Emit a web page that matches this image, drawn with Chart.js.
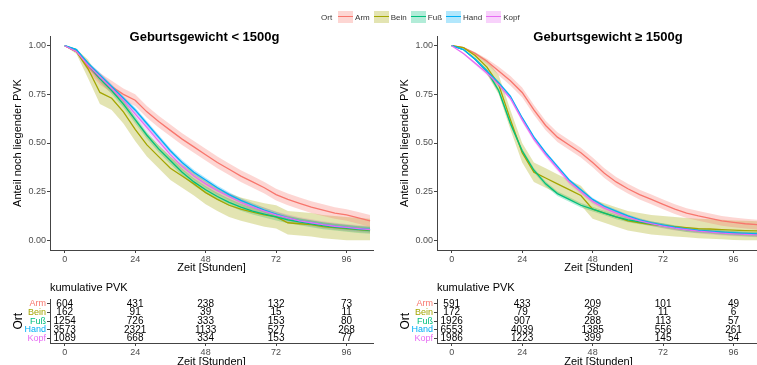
<!DOCTYPE html>
<html>
<head>
<meta charset="utf-8">
<script src="https://cdn.jsdelivr.net/npm/chart.js@4/dist/chart.umd.min.js"></script>
<style>
  body { margin: 0; width: 757px; height: 365px; overflow: hidden; background: #fff; position: relative;
         font-family: "Liberation Sans", Arial, sans-serif; }
  canvas { position: absolute; }
  #legend { position: absolute; top: 11px; left: 321px; display: flex; align-items: center; font-size: 8px; color: #333; z-index: 2; }
  #legend .key { width: 15px; height: 12px; position: relative; margin-right: 2px; }
  #legend .key i { position: absolute; left: 0; right: 0; top: 5px; height: 1.4px; }
  #legend .txt { margin-right: 4px; }
</style>
</head>
<body>
<div id="legend"><span class="txt" style="margin-right:6px">Ort</span></div>
<canvas id="survLeft" width="380" height="280" style="left:0;top:0"></canvas>
<canvas id="survRight" width="380" height="280" style="left:387px;top:0"></canvas>
<canvas id="tableLeft" width="380" height="95" style="left:0;top:280px"></canvas>
<canvas id="tableRight" width="380" height="95" style="left:387px;top:280px"></canvas>
<script>
// --- DATA ---
const seriesNames = ["Arm", "Bein", "Fuß", "Hand", "Kopf"];
const xTicks = [0, 24, 48, 72, 96];
const yTicks = [0, 0.25, 0.5, 0.75, 1];
const hours = [0, 4, 8, 12, 16, 20, 24, 28, 32, 36, 40, 44, 48, 52, 56, 60, 64, 68, 72, 76, 80, 84, 88, 92, 96, 100, 104];

// Geburtsgewicht < 1500g (Anteil noch liegender PVK)
const leftArm = [1, 0.97, 0.89, 0.83, 0.79, 0.75, 0.72, 0.66, 0.61, 0.565, 0.52, 0.48, 0.44, 0.4, 0.365, 0.33, 0.3, 0.27, 0.235, 0.21, 0.19, 0.17, 0.155, 0.14, 0.13, 0.115, 0.1];
const leftBein = [1, 0.97, 0.88, 0.76, 0.73, 0.66, 0.57, 0.49, 0.43, 0.37, 0.33, 0.29, 0.245, 0.21, 0.18, 0.16, 0.145, 0.13, 0.12, 0.09, 0.085, 0.08, 0.07, 0.065, 0.06, 0.055, 0.05];
const leftFuss = [1, 0.98, 0.9, 0.83, 0.77, 0.7, 0.62, 0.54, 0.47, 0.41, 0.35, 0.3, 0.26, 0.225, 0.195, 0.17, 0.15, 0.135, 0.12, 0.105, 0.095, 0.085, 0.075, 0.068, 0.062, 0.056, 0.052];
const leftHand = [1, 0.98, 0.91, 0.85, 0.79, 0.73, 0.67, 0.6, 0.53, 0.46, 0.4, 0.35, 0.31, 0.27, 0.235, 0.205, 0.18, 0.155, 0.135, 0.115, 0.1, 0.09, 0.08, 0.072, 0.066, 0.06, 0.056];
const leftKopf = [1, 0.97, 0.9, 0.84, 0.78, 0.72, 0.65, 0.58, 0.51, 0.44, 0.38, 0.33, 0.29, 0.255, 0.225, 0.195, 0.17, 0.15, 0.13, 0.115, 0.1, 0.09, 0.08, 0.072, 0.066, 0.06, 0.055];
const leftBand = [0.03, 0.06, 0.018, 0.012, 0.018]; // half width of the confidence band

// Geburtsgewicht >= 1500g
const rightArm = [1, 0.99, 0.96, 0.92, 0.87, 0.82, 0.76, 0.67, 0.59, 0.53, 0.49, 0.45, 0.4, 0.345, 0.3, 0.265, 0.235, 0.21, 0.185, 0.16, 0.14, 0.125, 0.113, 0.1, 0.092, 0.085, 0.08];
const rightBein = [1, 0.99, 0.95, 0.89, 0.8, 0.62, 0.45, 0.35, 0.32, 0.29, 0.26, 0.23, 0.16, 0.14, 0.12, 0.1, 0.09, 0.08, 0.075, 0.07, 0.065, 0.06, 0.058, 0.055, 0.052, 0.05, 0.048];
const rightFuss = [1, 0.98, 0.93, 0.87, 0.77, 0.6, 0.46, 0.36, 0.29, 0.24, 0.21, 0.18, 0.16, 0.14, 0.12, 0.105, 0.095, 0.085, 0.075, 0.065, 0.055, 0.05, 0.045, 0.04, 0.036, 0.033, 0.03];
const rightHand = [1, 0.98, 0.93, 0.87, 0.81, 0.74, 0.63, 0.53, 0.45, 0.38, 0.31, 0.26, 0.21, 0.175, 0.15, 0.125, 0.105, 0.09, 0.078, 0.067, 0.058, 0.051, 0.046, 0.042, 0.038, 0.035, 0.033];
const rightKopf = [1, 0.96, 0.91, 0.86, 0.8, 0.73, 0.62, 0.52, 0.44, 0.37, 0.3, 0.25, 0.2, 0.165, 0.14, 0.118, 0.1, 0.085, 0.073, 0.062, 0.054, 0.047, 0.042, 0.037, 0.033, 0.03, 0.028];
const rightBand = [0.025, 0.05, 0.012, 0.008, 0.012];

// kumulative PVK (at 0, 24, 48, 72, 96 h)
const leftCountArm = [604, 431, 238, 132, 73];
const leftCountBein = [162, 91, 39, 15, 11];
const leftCountFuss = [1254, 726, 333, 153, 80];
const leftCountHand = [3573, 2321, 1133, 527, 268];
const leftCountKopf = [1089, 668, 334, 153, 77];
const rightCountArm = [591, 433, 209, 101, 49];
const rightCountBein = [172, 79, 26, 11, 6];
const rightCountFuss = [1926, 907, 288, 113, 57];
const rightCountHand = [6553, 4039, 1385, 556, 261];
const rightCountKopf = [1986, 1223, 399, 145, 54];

// --- STYLE ---
const colors = ["#F8766D", "#A3A500", "#00BF7D", "#00B0F6", "#E76BF3"];
const fills = ["rgba(248,118,109,0.3)", "rgba(163,165,0,0.3)", "rgba(0,191,125,0.3)", "rgba(0,176,246,0.3)", "rgba(231,107,243,0.3)"];
const axisColor = "#444";
const tickColor = "#4d4d4d";
Chart.defaults.font.family = '"Liberation Sans", Arial, sans-serif';

// legend (html, sits between both panels)
const legendBox = document.getElementById("legend");
seriesNames.forEach((name, i) => {
  const key = document.createElement("span");
  key.className = "key";
  key.style.background = fills[i];
  key.innerHTML = `<i style="background:${colors[i]}"></i>`;
  const txt = document.createElement("span");
  txt.className = "txt";
  txt.textContent = name;
  legendBox.appendChild(key);
  legendBox.appendChild(txt);
});

function xScale(height, titlePad) {
  return {
    type: "linear",
    min: -5,
    max: 105,
    afterBuildTicks: (s) => { s.ticks = xTicks.map((v) => ({ value: v })); },
    afterFit: (s) => { s.height = height; },
    grid: { drawOnChartArea: false, tickLength: 3, color: axisColor },
    border: { color: axisColor, width: 1 },
    ticks: { font: { size: 9 }, color: tickColor, padding: 1, maxRotation: 0 },
    title: { display: true, text: "Zeit [Stunden]", font: { size: 11 }, color: "#000", padding: { top: 0, bottom: titlePad } },
  };
}

function panelTitle(text, offsetX) {
  return {
    id: "panelTitle",
    afterDraw(chart) {
      const ctx = chart.ctx;
      ctx.save();
      ctx.font = 'bold 13px "Liberation Sans", Arial, sans-serif';
      ctx.fillStyle = "#000";
      ctx.textAlign = "center";
      ctx.textBaseline = "middle";
      ctx.fillText(text, chart.chartArea.left + offsetX, 37);
      ctx.restore();
    },
  };
}

// band closes up near 1.0 like the KM confidence interval does
function bandWidth(s, w) {
  return w * Math.min(1, (1 - s) / 0.15);
}

function makeSurvival(canvasId, curves, band, titleText, titleOffset) {
  const datasets = [];
  seriesNames.forEach((name, i) => {
    datasets.push({
      label: name + " unten",
      data: hours.map((h, j) => ({ x: h, y: Math.max(0, curves[i][j] - bandWidth(curves[i][j], band[i])) })),
      borderWidth: 0, borderColor: "transparent", pointRadius: 0, fill: false, order: 10,
    });
    datasets.push({
      label: name + " oben",
      data: hours.map((h, j) => ({ x: h, y: Math.min(1, curves[i][j] + bandWidth(curves[i][j], band[i])) })),
      borderWidth: 0, borderColor: "transparent", pointRadius: 0, fill: "-1", backgroundColor: fills[i], order: 10,
    });
  });
  seriesNames.forEach((name, i) => {
    datasets.push({
      label: name,
      data: hours.map((h, j) => ({ x: h, y: curves[i][j] })),
      borderColor: colors[i], borderWidth: 1.3, pointRadius: 0, fill: false, order: 5 - i,
    });
  });

  new Chart(document.getElementById(canvasId), {
    type: "line",
    data: { datasets: datasets },
    options: {
      responsive: false,
      animation: false,
      layout: { padding: { left: 0, top: 36, right: 7, bottom: 0 } },
      plugins: { legend: { display: false }, tooltip: { enabled: false } },
      scales: {
        x: xScale(30, 5),
        y: {
          min: -0.05,
          max: 1.05,
          afterBuildTicks: (s) => { s.ticks = yTicks.map((v) => ({ value: v })); },
          afterFit: (s) => { s.width = 50; },
          grid: { drawOnChartArea: false, tickLength: 3, color: axisColor },
          border: { color: axisColor, width: 1 },
          ticks: { font: { size: 9 }, color: tickColor, padding: 1, callback: (v) => v.toFixed(2) },
          title: { display: true, text: "Anteil noch liegender PVK", font: { size: 11 }, color: "#000", padding: { top: 11, bottom: 0 } },
        },
      },
    },
    plugins: [panelTitle(titleText, titleOffset)],
  });
}

const countLabels = {
  id: "countLabels",
  afterDatasetsDraw(chart) {
    const ctx = chart.ctx;
    const ds = chart.data.datasets[0];
    ctx.save();
    ctx.fillStyle = "#000";
    ctx.textAlign = "left";
    ctx.textBaseline = "middle";
    ctx.font = '11px "Liberation Sans", Arial, sans-serif';
    ctx.fillText("kumulative PVK", chart.chartArea.left, 8);
    ctx.font = '10px "Liberation Sans", Arial, sans-serif';
    ctx.textAlign = "center";
    chart.getDatasetMeta(0).data.forEach((pt, i) => {
      ctx.fillText(String(ds.data[i].n), pt.x, pt.y);
    });
    ctx.restore();
  },
};

function makeTable(canvasId, counts) {
  const points = [];
  seriesNames.forEach((name, i) => {
    xTicks.forEach((t, j) => points.push({ x: t, y: name, n: counts[i][j] }));
  });
  new Chart(document.getElementById(canvasId), {
    type: "scatter",
    data: { datasets: [{ data: points, pointRadius: 0 }] },
    options: {
      responsive: false,
      animation: false,
      layout: { padding: { left: 0, top: 19.5, right: 7, bottom: 0 } },
      plugins: { legend: { display: false }, tooltip: { enabled: false } },
      scales: {
        x: xScale(32, 6),
        y: {
          type: "category",
          labels: seriesNames,
          offset: true,
          afterFit: (s) => { s.width = 50; },
          grid: { drawOnChartArea: false, tickLength: 3, color: axisColor, offset: false },
          border: { color: axisColor, width: 1 },
          ticks: { font: { size: 9 }, color: (c) => colors[c.index], padding: 1, autoSkip: false },
          title: { display: true, text: "Ort", font: { size: 12 }, color: "#000", padding: { top: 11, bottom: 0 } },
        },
      },
    },
    plugins: [countLabels],
  });
}

makeSurvival("survLeft", [leftArm, leftBein, leftFuss, leftHand, leftKopf], leftBand, "Geburtsgewicht < 1500g", 154.5);
makeSurvival("survRight", [rightArm, rightBein, rightFuss, rightHand, rightKopf], rightBand, "Geburtsgewicht ≥ 1500g", 171);
makeTable("tableLeft", [leftCountArm, leftCountBein, leftCountFuss, leftCountHand, leftCountKopf]);
makeTable("tableRight", [rightCountArm, rightCountBein, rightCountFuss, rightCountHand, rightCountKopf]);
</script>
</body>
</html>
